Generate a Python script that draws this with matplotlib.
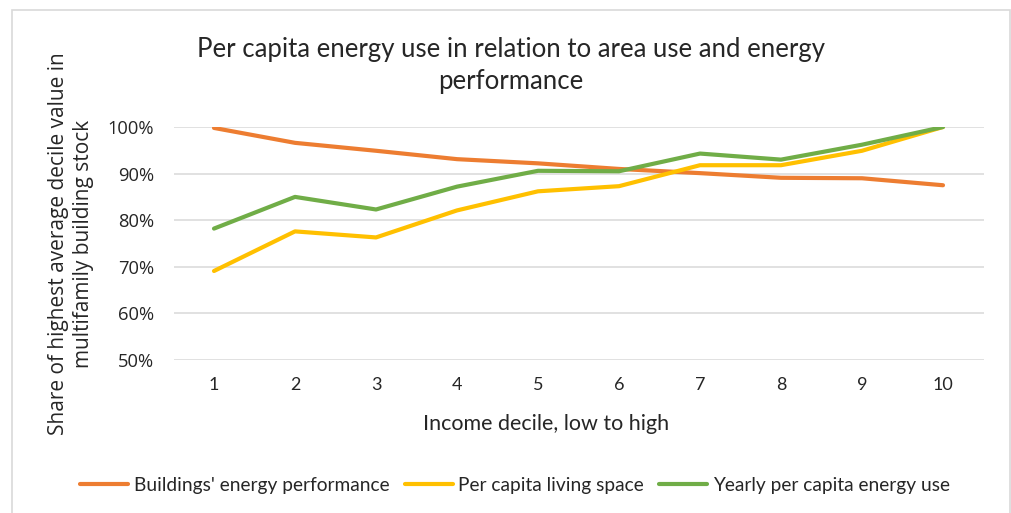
import matplotlib
matplotlib.use("Agg")
import matplotlib.pyplot as plt
from matplotlib.patches import Rectangle
from matplotlib.ticker import PercentFormatter

# income deciles, low to high
deciles = [1, 2, 3, 4, 5, 6, 7, 8, 9, 10]

# share of highest average decile value (%)
energy_performance = [99.8, 96.6, 94.9, 93.1, 92.2, 91.0, 90.1, 89.1, 89.0, 87.5]
living_space = [69.1, 77.6, 76.3, 82.1, 86.2, 87.3, 91.8, 91.8, 94.9, 100.0]
energy_use = [78.2, 85.0, 82.3, 87.2, 90.6, 90.5, 94.3, 93.0, 96.2, 100.0]

series_names = ["Buildings' energy performance", "Per capita living space",
                "Yearly per capita energy use"]
colors = ["#ED7D31", "#FFC000", "#70AD47"]

yticks = [50, 60, 70, 80, 90, 100]

W, H = 1011, 513
fig = plt.figure(figsize=(W / 100, H / 100), dpi=100)
fig.patch.set_facecolor("white")

# light chart frame like the Excel chart area
fig.patches.append(Rectangle((12 / W, -0.05), (1010 - 12) / W, 1.05 - 10 / H,
                             transform=fig.transFigure, fill=False,
                             edgecolor="#d9d9d9", linewidth=1.2))

ax = fig.add_axes([173.5 / W, 1 - 360 / H, 810 / W, (360 - 127) / H])

for vals, name, c in zip([energy_performance, living_space, energy_use], series_names, colors):
    ax.plot(deciles, vals, color=c, linewidth=3.0, label=name, solid_capstyle="round")

ax.set_xlim(0.5, 10.5)
ax.set_ylim(50, 100)
ax.set_yticks(yticks)
ax.set_xticks(deciles)
ax.yaxis.set_major_formatter(PercentFormatter(decimals=0))
ax.grid(axis="y", color="#d9d9d9", linewidth=1.1)
ax.set_axisbelow(True)
for s in ax.spines.values():
    s.set_visible(False)
ax.tick_params(length=0, colors="#262626")
ax.tick_params(axis="x", pad=12, labelsize=13)
ax.tick_params(axis="y", pad=14, labelsize=13.2)
for lab in ax.get_xticklabels():
    lab.set_family("Lato")
for lab in ax.get_yticklabels():
    lab.set_family("Open Sans")

ax.set_ylabel("Share of highest average decile value in\nmultifamily building stock",
              fontsize=15, family="Open Sans", color="#262626", labelpad=10,
              linespacing=1.2)

# x axis title sits a little left of the plot centre, as in the original
fig.text(546 / W, 1 - 424 / H, "Income decile, low to high", ha="center", va="center",
         fontsize=15.5, family="Lato", color="#262626")

fig.text(511 / W, 1 - 65 / H,
         "Per capita energy use in relation to area use and energy\nperformance",
         ha="center", va="center", fontsize=18.5, family="Lato", color="#262626",
         linespacing=1.35)

fig.legend(loc="center", bbox_to_anchor=(515 / W, 1 - 485 / H), ncol=3,
           frameon=False, prop={"family": "Lato", "size": 13.8},
           handlelength=2.5, handletextpad=0.3, columnspacing=0.8,
           labelcolor="#262626")

fig.savefig("out.png", dpi=100)
